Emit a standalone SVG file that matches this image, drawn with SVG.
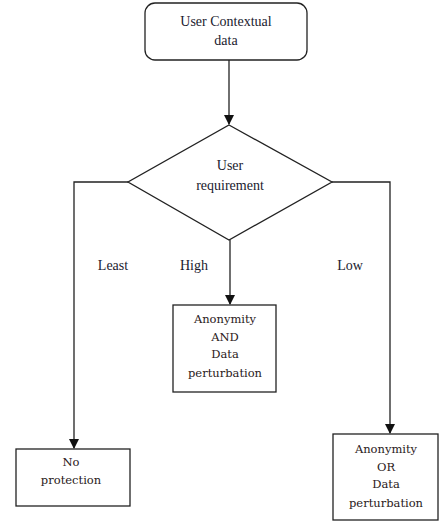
<svg xmlns="http://www.w3.org/2000/svg" width="445" height="523" viewBox="0 0 445 523">
<style>
.s{fill:#fff;stroke:#222;stroke-width:1.3}
.l{fill:none;stroke:#222;stroke-width:1.3}
text{font-family:'Liberation Serif','Times New Roman',serif;font-size:14px;fill:#1a1a2e;text-anchor:middle}
text.b{font-family:'DejaVu Serif','Liberation Serif',serif;font-size:11.5px;fill:#2a2020}
</style>
<defs>
<marker id="a" markerWidth="10" markerHeight="10" refX="9" refY="5" orient="auto" markerUnits="userSpaceOnUse">
<path d="M0,0 L10,5 L0,10 z" fill="#111"/>
</marker>
</defs>
<rect width="445" height="523" fill="#fff"/>
<g id="connectors">
<line class="l" x1="229" y1="60" x2="229" y2="124" marker-end="url(#a)"/>
<polyline class="l" points="128,182 74,182 74,448" marker-end="url(#a)"/>
<line class="l" x1="230" y1="240" x2="230" y2="304" marker-end="url(#a)"/>
<polyline class="l" points="332,182 390,182 390,433" marker-end="url(#a)"/>
</g>
<g id="start">
<rect class="s" x="145" y="3" width="162" height="57" rx="10"/>
<text x="226" y="26">User Contextual</text>
<text x="226" y="45">data</text>
</g>
<g id="decision">
<polygon class="s" points="229,125 332,182 229,240 128,182"/>
<text x="230" y="170">User</text>
<text x="230" y="190">requirement</text>
</g>
<text x="113" y="270">Least</text>
<text x="194" y="270">High</text>
<text x="350" y="270">Low</text>
<g id="high">
<rect class="s" x="173" y="305" width="103" height="87"/>
<text class="b" x="225" y="323">Anonymity</text>
<text class="b" x="225" y="341">AND</text>
<text class="b" x="225" y="358">Data</text>
<text class="b" x="225" y="377">perturbation</text>
</g>
<g id="least">
<rect class="s" x="16" y="449" width="114" height="57"/>
<text class="b" x="71" y="466">No</text>
<text class="b" x="71" y="484">protection</text>
</g>
<g id="low">
<rect class="s" x="333" y="434" width="105" height="86"/>
<text class="b" x="386" y="453">Anonymity</text>
<text class="b" x="386" y="471">OR</text>
<text class="b" x="386" y="488">Data</text>
<text class="b" x="386" y="507">perturbation</text>
</g>
</svg>
